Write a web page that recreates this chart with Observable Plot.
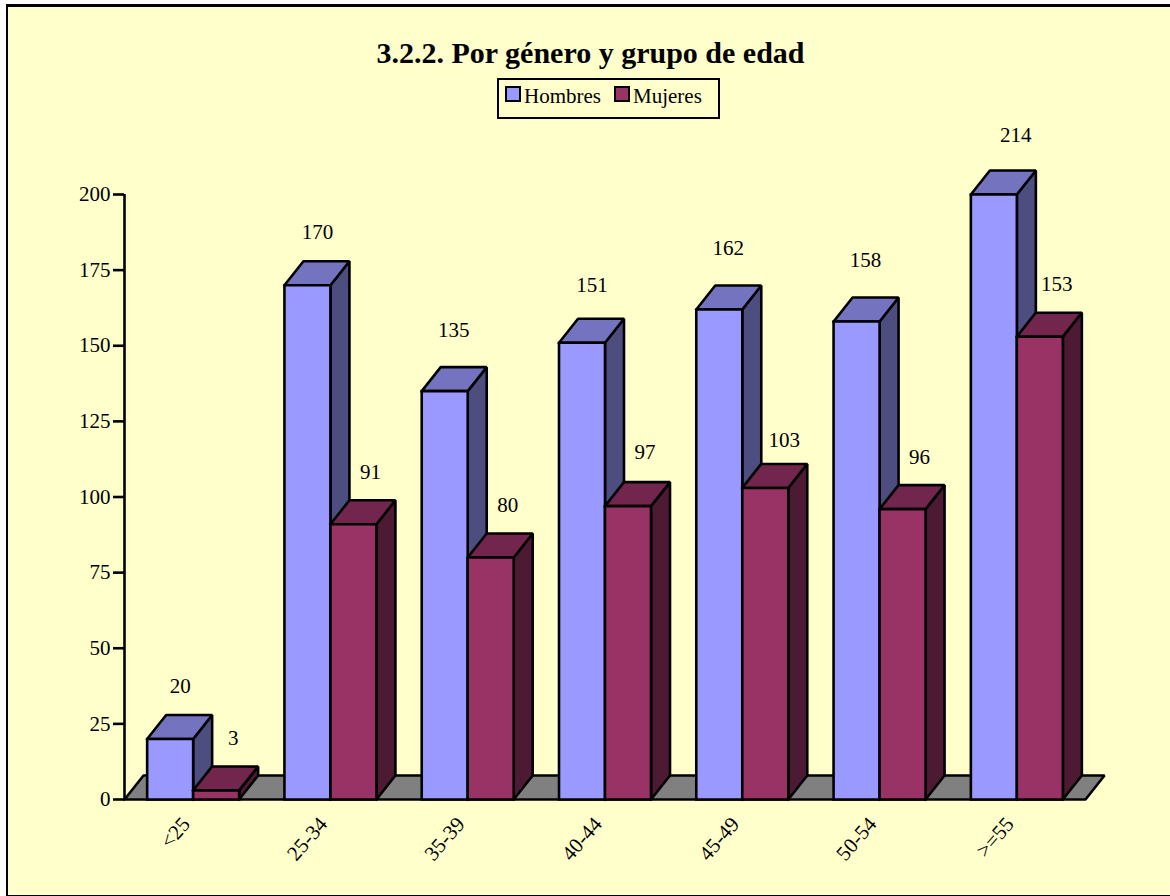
<!DOCTYPE html>
<html lang="es">
<head>
<meta charset="utf-8">
<script src="https://cdn.jsdelivr.net/npm/d3@7"></script>
<script src="https://cdn.jsdelivr.net/npm/@observablehq/plot@0.6"></script>
<style>
html,body{margin:0;padding:0;background:#fff;overflow:hidden;width:1170px;height:896px}
#panel{position:absolute;left:6px;top:4px;right:-4px;bottom:0;background:#FFFFCC;border-left:2.5px solid #000;border-top:3px solid #000;border-bottom:1.5px solid #000;}
#page{position:absolute;left:0;top:0;width:1170px;height:896px;font-family:"Liberation Serif",serif;color:#000}
#title{position:absolute;left:0;width:1181px;top:30px;height:46px;line-height:46px;text-align:center;font-weight:bold;font-size:30px}
#legend{position:absolute;left:497px;top:78px;width:219px;height:37px;border:2.5px solid #000;box-sizing:content-box;font-size:21px;line-height:38px}
#legend i{position:absolute;top:6px;width:12px;height:12px;border:2px solid #000}
#legend span{position:absolute;top:-3px;white-space:nowrap}
#chart{position:absolute;left:0;top:120px}
#chart svg{display:block;background:transparent}
</style>
</head>
<body>
<div id="panel"></div>
<div id="page">
  <div id="title">3.2.2. Por género y grupo de edad</div>
  <div id="legend"></div>
  <div id="chart"></div>
</div>
<script>
const categories = ["<25", "25-34", "35-39", "40-44", "45-49", "50-54", ">=55"];
const hombres = [20, 170, 135, 151, 162, 158, 214];
const mujeres = [3, 91, 80, 97, 103, 96, 153];
const yTicks = [0, 25, 50, 75, 100, 125, 150, 175, 200];
const seriesNames = ["Hombres", "Mujeres"];
const seriesColors = ["#9999FF", "#993366"];
const topColors = ["#7373BF", "#73264D"];
const sideColors = ["#4D4D80", "#4D1A33"];
const yMax = 200;

const barW = 46 / 137.3, depthX = 19 / 137.3, depthY = 24 / 3.025;
const font = "Liberation Serif";

function poly(points, fill, sw = 2.6) {
  const closed = points.concat([points[0]]);
  return Plot.line(closed, {x: d => d[0], y: d => d[1], fill, stroke: "#000", strokeWidth: sw,
    strokeLinejoin: "miter", strokeLinecap: "square", curve: "linear"});
}

function barMarks(cat, s, value) {
  const v = Math.min(value, yMax);
  const x0 = cat + 0.5 + (s === 0 ? -barW : 0), x1 = x0 + barW;
  return [
    poly([[x1, 0], [x1 + depthX, depthY], [x1 + depthX, v + depthY], [x1, v]], sideColors[s]),
    poly([[x0, v], [x0 + depthX, v + depthY], [x1 + depthX, v + depthY], [x1, v]], topColors[s]),
    poly([[x0, 0], [x0, v], [x1, v], [x1, 0]], seriesColors[s])
  ];
}

function valueLabels(values, s, test, dx, dy) {
  return Plot.text(values.map((value, cat) => ({value, cat})).filter(test), {
    x: d => d.cat + 0.5 + (s === 0 ? -barW / 2 : barW / 2),
    y: d => Math.min(d.value, yMax),
    text: d => String(d.value),
    dx, dy, fontSize: 21, fontFamily: font, fill: "#000"
  });
}
const among = (...vs) => d => vs.includes(d.value);

const chart = Plot.plot({
  width: 1170, height: 770,
  marginLeft: 124, marginRight: 85, marginTop: 74, marginBottom: 91,
  style: {background: "transparent", fontFamily: font, fontSize: "21px", color: "#000", overflow: "visible"},
  x: {type: "linear", domain: [0, 7], range: [124, 1085], axis: null},
  y: {type: "linear", domain: [0, yMax], range: [679, 74], axis: null},
  marks: [
    poly([[0, 0], [depthX, depthY], [7 + depthX, depthY], [7, 0]], "#808080"),
    Plot.ruleX([0], {y1: 0, y2: yMax, stroke: "#000", strokeWidth: 2.6}),
    Plot.axisY({ticks: yTicks, anchor: "left", tickSize: 11, tickPadding: 3, strokeWidth: 2.6, stroke: "#000",
      fontSize: 21, fontFamily: font, fill: "#000", label: null}),
    ...categories.flatMap((c, i) => [...barMarks(i, 0, hombres[i]), ...barMarks(i, 1, mujeres[i])]),
    valueLabels(hombres, 0, among(20, 170), 10, -53),
    valueLabels(hombres, 0, among(135, 162, 158), 9, -61),
    valueLabels(hombres, 0, among(151), 10, -57),
    valueLabels(hombres, 0, among(214), 22, -59),
    valueLabels(mujeres, 1, among(3, 91, 80, 96, 153), 17, -52),
    valueLabels(mujeres, 1, among(97), 17, -54),
    valueLabels(mujeres, 1, among(103), 19, -48),
    Plot.text(categories, {
      x: (d, i) => i + 0.5, y: () => 0, text: d => d,
      textAnchor: "end", rotate: -49, dx: -7, dy: 21,
      fontSize: 21, fontFamily: font, fill: "#000"
    })
  ]
});
document.getElementById("chart").appendChild(chart);

const legend = d3.select("#legend");
const swatchLeft = [6, 115], textLeft = [25, 134];
seriesNames.forEach((n, i) => {
  legend.append("i").style("left", swatchLeft[i] + "px").style("background", seriesColors[i]);
  legend.append("span").style("left", textLeft[i] + "px").text(n);
});
</script>
</body>
</html>
